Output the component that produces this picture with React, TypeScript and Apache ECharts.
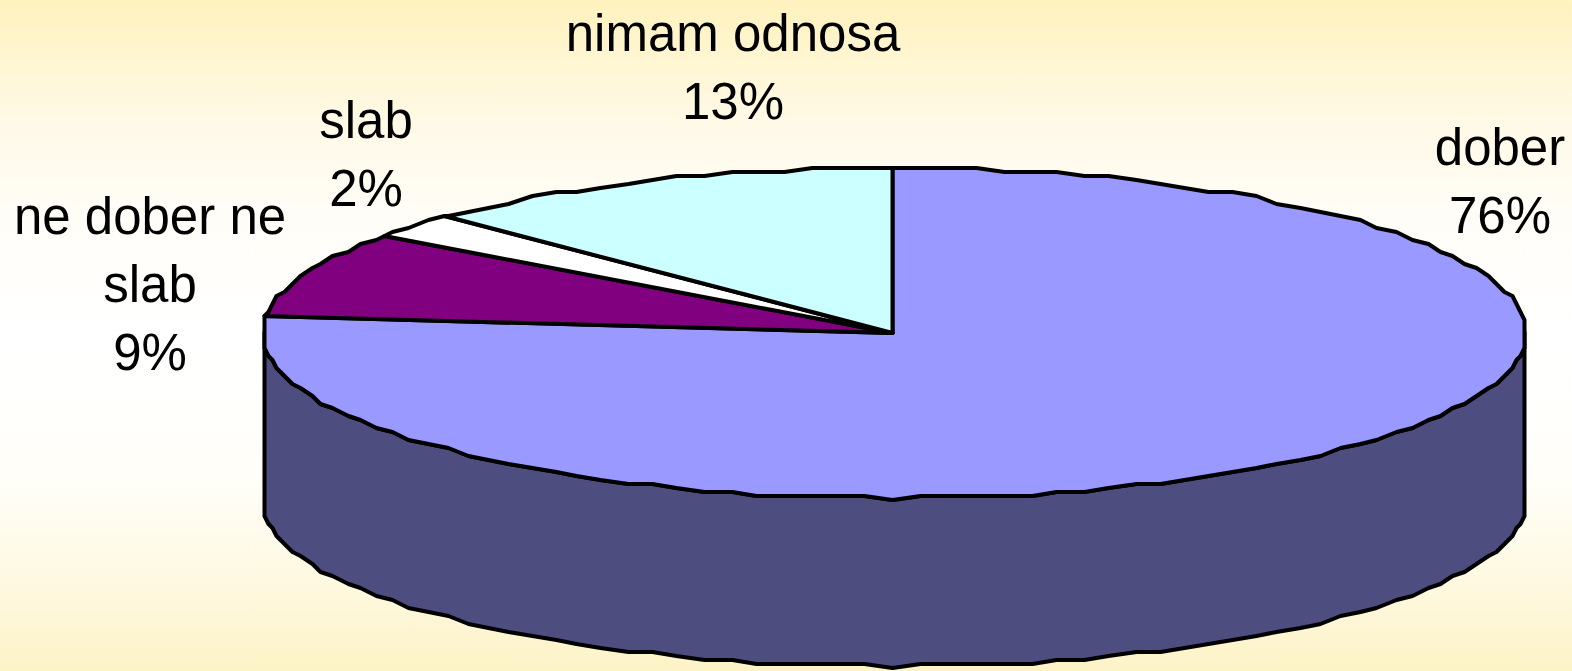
import React, { useEffect, useRef } from "react";
import * as echarts from "echarts";

const categories = ["dober", "ne dober ne\nslab", "slab", "nimam odnosa"];
const sliceValues = [76.49, 8.51, 2.4, 12.6];
const topColors = ["#9999FF", "#800080", "#FFFFFF", "#CCFFFF"];
const wallColor = "#4D4D80";

// Layout of the tilted disc (pixels)
const CX = 893.5;
const CY = 333;
const RX = 631.5;
const RY = 165;
const DEPTH = 168;
const STEP_DEG = 2.5;
const QX = 4;
const QY = 4;
const labelAnchors = [
  [1500, 181],
  [150, 284],
  [366, 154],
  [733, 67],
];

const total = sliceValues.reduce((a, b) => a + b, 0);
const toAngle = (v: number) => (v / total) * 360;

function pt(deg: number, dy = 0): number[] {
  const r = (deg * Math.PI) / 180;
  const x = CX + RX * Math.sin(r);
  const y = CY - RY * Math.cos(r);
  return [Math.round(x / QX) * QX + 0.5, Math.round(y / QY) * QY + dy];
}

function arc(from: number, to: number, dy = 0): number[][] {
  const out: number[][] = [pt(from, dy)];
  let a = Math.ceil(from / STEP_DEG + 1e-6) * STEP_DEG;
  for (; a < to - 1e-6; a += STEP_DEG) out.push(pt(a, dy));
  out.push(pt(to, dy));
  return out;
}

function renderSlice(params: any, api: any) {
  const i = params.dataIndex;
  const value = api.value(0);
  let before = 0;
  for (let k = 0; k < i; k++) before += sliceValues[k];
  const start = toAngle(before);
  const end = start + toAngle(value);
  const stroke = { stroke: "#000", lineWidth: 4, lineJoin: "round" };
  const children: any[] = [];
  const wFrom = Math.max(start, 90);
  const wTo = Math.min(end, 270);
  if (wFrom < wTo) {
    children.push({
      type: "polygon",
      shape: { points: [...arc(wFrom, wTo), ...arc(wFrom, wTo, DEPTH).reverse()] },
      style: { fill: wallColor, ...stroke },
    });
  }
  const tip = [pt(0)[0], CY];
  children.push({
    type: "polygon",
    shape: { points: [tip, ...arc(start, end)] },
    style: { fill: topColors[i], ...stroke },
  });
  children.push({
    type: "text",
    style: {
      text: `${categories[i]}\n${Math.round((value / total) * 100)}%`,
      x: labelAnchors[i][0],
      y: labelAnchors[i][1],
      align: "center",
      verticalAlign: "middle",
      fontFamily: "'Liberation Sans', Arial, sans-serif",
      fontSize: 51,
      lineHeight: 68,
      fill: "#000",
    },
  });
  return { type: "group", children };
}

export default function App() {
  const ref = useRef<HTMLDivElement>(null);
  useEffect(() => {
    document.body.style.margin = "0";
    const chart = echarts.init(ref.current!, undefined, { renderer: "svg" });
    chart.setOption({
      animation: false,
      backgroundColor: {
        type: "linear",
        x: 0,
        y: 0,
        x2: 0,
        y2: 1,
        colorStops: [
          { offset: 0, color: "#FFF2BE" },
          { offset: 0.18, color: "#FFF9E6" },
          { offset: 0.32, color: "#FFFDF7" },
          { offset: 0.5, color: "#FFFFFF" },
          { offset: 0.72, color: "#FFFEF8" },
          { offset: 0.86, color: "#FEF9E2" },
          { offset: 1, color: "#FDF3C6" },
        ],
      },
      series: [
        {
          type: "custom",
          coordinateSystem: "none",
          silent: true,
          renderItem: renderSlice,
          encode: { value: 0 },
          data: sliceValues.map((v, i) => ({ name: categories[i], value: [v] })),
        },
      ],
    });
    return () => chart.dispose();
  }, []);
  return <div ref={ref} style={{ width: 1572, height: 671 }} />;
}
